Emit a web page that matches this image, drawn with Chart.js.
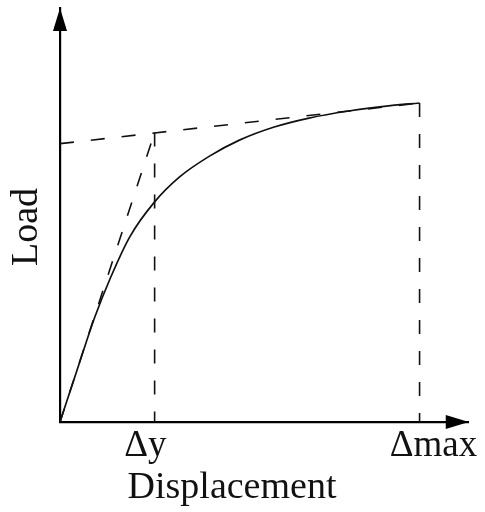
<!DOCTYPE html>
<html>
<head>
<meta charset="utf-8">
<script src="https://cdn.jsdelivr.net/npm/chart.js@4.4.0/dist/chart.umd.min.js"></script>
<style>
  html, body { margin: 0; padding: 0; background: #fff; }
  #wrap { width: 485px; height: 512px; }
</style>
</head>
<body>
<div id="wrap"><canvas id="myChart"></canvas></div>
<script>
// load-displacement curve (arbitrary units)
const curveX = [0, 0.53, 0.92, 1.32, 1.84, 2.5, 3.16, 3.95, 4.74, 5.66, 6.58, 7.63, 8.68, 9.5];
const curveY = [0, 1.91, 3.28, 4.47, 5.78, 6.88, 7.66, 8.31, 8.81, 9.22, 9.5, 9.72, 9.88, 9.97];

// idealised bilinear construction
const dispYield = 2.5;
const dispMax = 9.5;
const loadYield = 9.05;
const loadMax = 9.97;
const loadIntercept = 8.7;

const tickValues = [dispYield, dispMax];
// padded with spaces so the labels sit a little off their ticks
const tickLabels = ["Δy  ", "   Δmax"];

const ctx = document.getElementById("myChart");

const toPoints = (xs, ys) => xs.map((x, i) => ({ x: x, y: ys[i] }));

const dashed = (xs, ys) => ({
  data: toPoints(xs, ys),
  borderColor: "#111",
  borderWidth: 1.6,
  borderDash: [14, 17],
  pointRadius: 0,
  fill: false,
});

// arrows on the axes and the two axis titles
const axisDecor = {
  id: "axisDecor",
  afterDraw(chart) {
    const c = chart.ctx;
    const a = chart.chartArea;
    c.save();
    c.fillStyle = "#000";
    c.beginPath();
    c.moveTo(a.left, a.top);
    c.lineTo(a.left - 7, a.top + 23);
    c.lineTo(a.left + 7, a.top + 23);
    c.closePath();
    c.fill();
    c.beginPath();
    c.moveTo(a.right, a.bottom);
    c.lineTo(a.right - 23, a.bottom - 7);
    c.lineTo(a.right - 23, a.bottom + 7);
    c.closePath();
    c.fill();

    c.fillStyle = "#111";
    c.font = "38px 'Liberation Serif'";
    c.textAlign = "center";
    c.textBaseline = "alphabetic";
    c.fillText("Displacement", a.left + 172, a.bottom + 76);
    c.translate(a.left - 23, a.top + 219);
    c.rotate(-Math.PI / 2);
    c.fillText("Load", 0, 0);
    c.restore();
  },
};

new Chart(ctx, {
  type: "line",
  data: {
    datasets: [
      {
        data: toPoints(curveX, curveY),
        borderColor: "#111",
        borderWidth: 1.7,
        pointRadius: 0,
        cubicInterpolationMode: "monotone",
        fill: false,
      },
      dashed([0, dispYield], [0, loadYield]),
      dashed([0, dispMax], [loadIntercept, loadMax]),
      dashed([dispYield, dispYield], [loadYield, 0]),
      dashed([dispMax, dispMax], [loadMax, 0]),
    ],
  },
  options: {
    responsive: true,
    maintainAspectRatio: false,
    animation: false,
    layout: { padding: { top: 8, right: 15, left: 0, bottom: 0 } },
    plugins: {
      legend: { display: false },
      tooltip: { enabled: false },
    },
    scales: {
      x: {
        type: "linear",
        min: 0,
        max: 10.8,
        afterBuildTicks: (axis) => {
          axis.ticks = tickValues.map((v) => ({ value: v }));
        },
        afterFit: (scale) => {
          scale.height = 90;
        },
        ticks: {
          autoSkip: false,
          maxRotation: 0,
          padding: 6,
          color: "#111",
          font: { family: "Liberation Serif", size: 37, lineHeight: 1 },
          callback: (v) => tickLabels[tickValues.indexOf(v)],
        },
        grid: { display: false, drawTicks: false },
        border: { display: true, color: "#000", width: 2.2 },
      },
      y: {
        min: 0,
        max: 12.94,
        afterFit: (scale) => {
          scale.width = 60;
        },
        ticks: { display: false },
        grid: { display: false, drawTicks: false },
        border: { display: true, color: "#000", width: 2.2 },
      },
    },
  },
  plugins: [axisDecor],
});
</script>
</body>
</html>
